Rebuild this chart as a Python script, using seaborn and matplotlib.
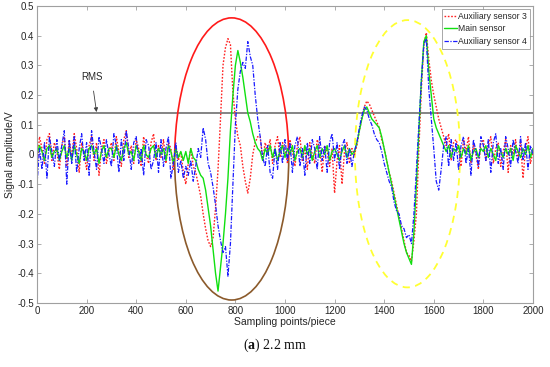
import numpy as np
import pandas as pd
import matplotlib
matplotlib.use("Agg")
import matplotlib.pyplot as plt
import seaborn as sns
from matplotlib.patches import Arc

# ---------------- data (sampled every 10 points) ----------------
x_step = 10
aux3 = [
    -0.04, 0.06, 0.02, -0.03, 0.05, 0.07, -0.02, 0.04, 0.01, -0.05,
    0.03, 0.06, -0.04, 0.05, -0.01, 0.07, 0.02, -0.06, 0.04, 0.00,
    -0.05, 0.03, 0.06, -0.02, 0.04, -0.07, 0.02, 0.05, -0.03, 0.01,
    0.04, -0.02, 0.06, 0.01, -0.04, 0.05, 0.08, -0.01, 0.03, -0.03,
    0.05, 0.02, -0.04, 0.06, 0.00, -0.03, 0.04, 0.07, -0.02, 0.03,
    -0.01, 0.05, -0.03, 0.04, 0.02, -0.05, 0.03, -0.02, 0.01, -0.06,
    -0.10, -0.03, 0.02, -0.04, -0.06, -0.10, -0.14, -0.20, -0.25, -0.29,
    -0.31, -0.28, -0.18, -0.05, 0.12, 0.30, 0.36, 0.39, 0.37, 0.21,
    0.12, 0.06, 0.03, -0.04, -0.09, -0.13, -0.08, 0.00, 0.04, 0.06,
    0.06, -0.02, 0.04, 0.01, 0.05, -0.03, 0.03, 0.06, -0.01, 0.04,
    0.02, -0.03, 0.05, 0.01, -0.04, 0.03, 0.06, -0.02, 0.02, -0.05,
    0.04, 0.00, -0.03, 0.05, 0.02, -0.06, 0.03, 0.01, -0.04, 0.02,
    -0.13, -0.02, 0.03, -0.10, 0.01, 0.04, -0.03, 0.02, 0.00, 0.03,
    0.08, 0.12, 0.16, 0.18, 0.17, 0.15, 0.13, 0.11, 0.09, 0.05,
    0.02, -0.02, -0.06, -0.09, -0.13, -0.17, -0.21, -0.25, -0.29, -0.33,
    -0.34, -0.36, -0.29, -0.20, 0.02, 0.22, 0.37, 0.41, 0.32, 0.25,
    0.20, 0.16, 0.12, 0.09, 0.06, 0.03, 0.07, -0.02, 0.04, 0.05,
    0.02, -0.04, 0.05, 0.01, 0.06, -0.03, 0.03, 0.00, -0.05, 0.04,
    0.05, -0.02, 0.03, 0.06, -0.03, 0.02, 0.04, -0.04, 0.01, 0.05,
    -0.06, 0.03, 0.00, 0.05, -0.02, 0.04, -0.08, 0.02, 0.06, -0.03,
    0.01,
]
main = [
    0.00, 0.03, 0.01, -0.02, 0.02, 0.03, -0.01, 0.01, 0.02, -0.02,
    0.01, 0.03, -0.01, 0.02, -0.02, 0.03, 0.00, -0.03, 0.02, 0.01,
    -0.02, 0.02, 0.03, 0.00, 0.02, -0.03, 0.01, 0.03, -0.01, 0.02,
    0.02, -0.01, 0.03, 0.00, -0.02, 0.02, 0.04, 0.00, 0.01, -0.02,
    0.03, 0.01, -0.02, 0.03, 0.00, -0.01, 0.02, 0.03, -0.01, 0.02,
    0.00, 0.02, -0.02, 0.03, 0.01, -0.03, 0.02, -0.01, 0.01, -0.02,
    0.01, -0.03, 0.02, -0.01, -0.02, -0.05, -0.07, -0.08, -0.12, -0.18,
    -0.24, -0.32, -0.40, -0.46, -0.38, -0.30, -0.20, -0.08, 0.08, 0.20,
    0.30, 0.35, 0.31, 0.26, 0.20, 0.14, 0.11, 0.07, 0.04, 0.02,
    0.01, -0.02, 0.02, 0.00, 0.03, -0.01, 0.02, -0.02, 0.01, 0.03,
    -0.01, 0.02, 0.00, 0.03, -0.02, 0.01, 0.02, -0.01, 0.03, 0.00,
    0.02, -0.02, 0.01, 0.03, -0.01, 0.02, 0.00, 0.03, -0.02, 0.01,
    0.02, 0.00, -0.02, 0.01, 0.03, -0.01, 0.02, 0.00, 0.01, 0.04,
    0.08, 0.12, 0.15, 0.16, 0.14, 0.12, 0.11, 0.10, 0.09, 0.06,
    0.02, -0.02, -0.06, -0.10, -0.14, -0.18, -0.22, -0.26, -0.30, -0.33,
    -0.35, -0.37, -0.26, -0.10, 0.08, 0.25, 0.38, 0.40, 0.28, 0.20,
    0.12, 0.09, 0.07, 0.05, 0.03, 0.01, 0.03, -0.01, 0.02, 0.01,
    0.03, -0.01, 0.02, 0.00, 0.03, -0.02, 0.01, 0.02, -0.01, 0.02,
    0.01, 0.03, -0.01, 0.02, 0.00, -0.02, 0.03, 0.01, -0.01, 0.02,
    0.00, 0.02, -0.02, 0.03, 0.01, -0.01, 0.02, 0.00, 0.03, -0.01,
    0.02,
]
aux4 = [
    -0.10, 0.02, -0.05, 0.04, -0.08, 0.06, 0.01, -0.04, 0.05, -0.02,
    0.03, 0.08, -0.10, 0.05, -0.03, 0.06, -0.06, 0.02, 0.07, -0.02,
    0.04, -0.07, 0.08, 0.01, -0.05, 0.06, 0.02, -0.03, 0.05, 0.00,
    -0.04, 0.07, 0.03, -0.06, 0.05, -0.02, 0.08, 0.02, -0.05, 0.04,
    0.06, -0.03, 0.02, -0.07, 0.05, 0.03, -0.05, -0.02, 0.04, -0.06,
    0.05, -0.04, 0.02, 0.06, -0.08, -0.03, 0.04, -0.06, -0.02, -0.08,
    -0.04, -0.07, -0.02, -0.09, -0.04, 0.02, -0.01, 0.09, 0.05, -0.03,
    -0.06, -0.11, -0.17, -0.24, -0.29, -0.33, -0.31, -0.41, -0.30, -0.10,
    0.10, 0.22, 0.28, 0.31, 0.29, 0.38, 0.33, 0.30, 0.20, 0.12,
    0.06, -0.01, -0.04, 0.03, -0.06, -0.08, 0.02, -0.05, 0.04, -0.03,
    0.05, -0.02, 0.04, -0.06, 0.03, 0.06, -0.04, 0.02, -0.07, 0.04,
    -0.03, 0.05, 0.02, -0.05, 0.06, -0.02, 0.03, -0.06, 0.04, 0.07,
    -0.02, 0.04, -0.05, 0.03, 0.05, -0.03, 0.02, -0.04, 0.01, 0.04,
    0.09, 0.13, 0.16, 0.15, 0.12, 0.10, 0.07, 0.05, 0.04, 0.01,
    -0.03, -0.06, -0.09, -0.11, -0.16, -0.19, -0.20, -0.24, -0.25, -0.28,
    -0.27, -0.30, -0.20, -0.05, 0.10, 0.25, 0.37, 0.39, 0.22, 0.12,
    0.02, -0.09, -0.12, -0.05, 0.03, 0.06, -0.04, 0.05, -0.02, 0.04,
    -0.05, 0.03, 0.06, -0.03, 0.02, -0.07, 0.05, 0.01, -0.04, 0.06,
    0.03, -0.02, 0.05, -0.06, 0.04, 0.07, -0.03, 0.02, -0.05, 0.06,
    0.02, -0.04, 0.05, 0.01, -0.03, 0.06, -0.02, 0.04, -0.05, 0.03,
    0.00,
]
series_names = ["Auxiliary sensor 3", "Main sensor", "Auxiliary sensor 4"]
rms_value = 0.14
x_ticks = [0, 200, 400, 600, 800, 1000, 1200, 1400, 1600, 1800, 2000]
y_ticks = [-0.5, -0.4, -0.3, -0.2, -0.1, 0, 0.1, 0.2, 0.3, 0.4, 0.5]

samples = np.arange(len(main)) * x_step
df = pd.DataFrame({"x": samples, "aux3": aux3, "main": main, "aux4": aux4})

# ---------------- style ----------------
sns.set_theme(style="white")
plt.rcParams["font.family"] = ["Liberation Sans", "DejaVu Sans"]
plt.rcParams["mathtext.fontset"] = "custom"
plt.rcParams["mathtext.rm"] = "Liberation Serif"
plt.rcParams["mathtext.bf"] = "Liberation Serif:bold"

fig = plt.figure(figsize=(5.5, 3.67), dpi=100)
ax = fig.add_axes([0.0673, 0.1744, 0.9017, 0.8093])

sns.lineplot(data=df, x="x", y="aux3", ax=ax, color="#ff2020",
             dashes=False, linestyle=(0, (1.2, 1.2)),
             linewidth=1.0, label=series_names[0], estimator=None, sort=False)
sns.lineplot(data=df, x="x", y="main", ax=ax, color="#10e010", linestyle="-",
             linewidth=1.0, label=series_names[1], estimator=None, sort=False)
sns.lineplot(data=df, x="x", y="aux4", ax=ax, color="#1a1aff",
             linestyle=(0, (3.5, 1.2, 1, 1.2)),
             linewidth=0.9, label=series_names[2], estimator=None, sort=False)

ax.axhline(rms_value, color="#707070", linewidth=1.2, zorder=1)
ax.annotate("RMS", xy=(240, rms_value + 0.003), xytext=(220, 0.26),
            fontsize=7, color="#262626", ha="center", va="center",
            arrowprops=dict(arrowstyle="-|>", color="#404040", lw=0.6,
                            mutation_scale=6, shrinkA=4, shrinkB=0))

# ellipses
ax.add_patch(Arc((785, -0.015), 460, 0.95, theta1=0, theta2=180,
                 color="#ff1a1a", lw=1.2))
ax.add_patch(Arc((785, -0.015), 460, 0.95, theta1=180, theta2=360,
                 color="#8b5a2b", lw=1.2))
ax.add_patch(Arc((1494, 0.0025), 424, 0.90, theta1=0, theta2=360,
                 color="#ffff33", lw=1.3, linestyle=(0, (4, 3))))

ax.set_xlim(0, 2000)
ax.set_ylim(-0.5, 0.5)
ax.set_xticks(x_ticks)
ax.set_yticks(y_ticks)
ax.set_yticklabels([("%g" % v) for v in y_ticks])
ax.tick_params(direction="in", length=3, width=0.6, colors="#a0a0a0",
               labelcolor="#262626", labelsize=7, top=True, right=True,
               bottom=True, left=True, pad=2)
for s in ax.spines.values():
    s.set_color("#a0a0a0")
    s.set_linewidth(0.8)

ax.set_xlabel("Sampling points/piece", fontsize=7.5, color="#262626", labelpad=1)
ax.set_ylabel("Signal amplitude/V", fontsize=7.5, color="#262626", labelpad=2)

leg = ax.legend(loc="upper right", fontsize=6.2, frameon=True, fancybox=False,
                handlelength=1.5, handletextpad=0.15, borderpad=0.3,
                labelspacing=0.45, borderaxespad=0.35)
leg.get_frame().set_edgecolor("#808080")
leg.get_frame().set_linewidth(0.6)

fig.text(0.5, 0.06, r"($\mathbf{a}$) 2.2 mm", ha="center", va="center",
         fontsize=10, family="Liberation Serif", color="#111111")

fig.savefig("out.png", dpi=100)
